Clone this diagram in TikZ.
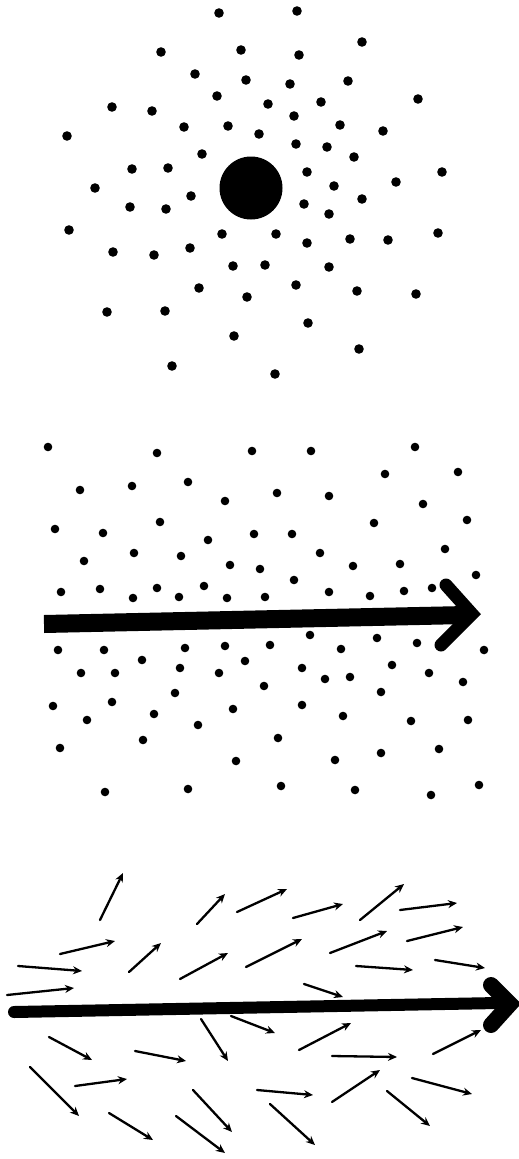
\documentclass[tikz,border=0pt]{standalone}
\usepackage{tikz}
\usetikzlibrary{arrows.meta}

\tikzset{
    grain/.style={fill=black},
    flow/.style={line width=2.3pt, line cap=round, -{Stealth[length=9pt,width=8pt]}},
    beam/.style={line width=#1, line cap=round}
}

\begin{document}
\begin{tikzpicture}[x=1pt, y=-1pt]
    \useasboundingbox (0,0) rectangle (519,1159);

    % Top: charge in a cloud of particles
    \fill (251,188) circle (31.5);
    \foreach \px/\py in {219/13,297/11,161/52,241/50,299/55,362/42,195/74,246/80,290/84,348/81,
        217/96,268/104,321/102,418/99,112/107,152/111,184/127,228/126,259/134,294/116,
        340/125,383/131,67/136,296/144,327/147,202/154,354/157,132/169,168/168,307/172,
        442/172,95/188,396/182,334/186,191/196,362/199,304/204,130/207,166/209,329/214,
        69/230,222/234,276/234,307/243,350/239,388/240,438/233,113/252,154/255,190/248,
        233/266,265/265,329/267,199/288,247/297,296/285,357/291,416/294,107/312,165/311,
        308/323,234/336,359/349,172/366,275/374}
        \fill[grain] (\px,\py) circle (4.8);

    % Middle: particles around the beam
    \foreach \px/\py in {48/447,157/453,252/451,311/451,415/447,80/490,132/486,188/482,385/474,
        458/472,225/501,277/493,329/496,423/504,55/529,103/533,160/522,208/540,254/534,
        292/534,374/523,467/520,84/561,134/553,181/556,230/565,260/569,320/553,353/566,
        400/564,445/549,476/575,61/592,100/589,133/598,157/588,179/597,204/586,227/598,
        265/597,294/580,329/592,370/596,404/591,432/588,
        58/650,104/650,185/648,225/646,270/645,310/635,341/649,377/638,417/643,484/650,
        142/660,81/673,115/673,180/668,219/673,245/661,302/668,325/679,350/677,392/665,
        429/673,463/682,264/686,175/693,381/692,53/706,112/702,154/714,233/709,302/705,
        87/720,198/725,343/716,411/721,468/720,60/748,143/740,278/738,439/749,381/753,
        236/761,335/760,105/792,188/789,281/786,355/790,431/795,479/785}
        \fill[grain] (\px,\py) circle (4.3);

    \coordinate (beamA) at (44,624);
    \coordinate (beamB) at (466,615);
    \coordinate (tipA) at (472,614);
    \draw[beam=18pt, line cap=butt] (beamA) -- (beamB);
    \draw[beam=13pt, line join=miter] (446,585) -- (tipA) -- (441,645);

    % Bottom: velocity field around the beam
    \foreach \ax/\ay/\bx/\by in {100/920/123/873, 197/924/225/894, 237/912/287/889,
        293/918/343/904, 360/920/404/884, 400/910/457/903, 60/954/115/941,
        129/972/161/943, 180/979/228/953, 246/967/302/939, 330/953/387/931,
        407/941/463/927, 18/966/82/971, 356/966/413/970, 435/960/485/968,
        7/995/74/988, 304/984/343/997,
        49/1037/92/1060, 135/1051/186/1061, 201/1019/228/1061, 231/1016/275/1033,
        299/1050/351/1023, 332/1056/397/1057, 433/1054/481/1030, 30/1067/79/1116,
        75/1086/127/1079, 257/1090/313/1095, 332/1102/380/1070, 412/1078/472/1094,
        387/1091/430/1126, 193/1090/232/1132, 109/1113/153/1140, 176/1116/225/1153,
        270/1104/315/1145}
        \draw[flow] (\ax,\ay) -- (\bx,\by);

    \coordinate (rodA) at (14,1012);
    \coordinate (rodB) at (498,1003);
    \coordinate (tipB) at (510,1004);
    \draw[beam=12pt] (rodA) -- (rodB);
    \draw[beam=16pt, line join=miter] (491,985) -- (tipB) -- (491,1025);
\end{tikzpicture}
\end{document}
